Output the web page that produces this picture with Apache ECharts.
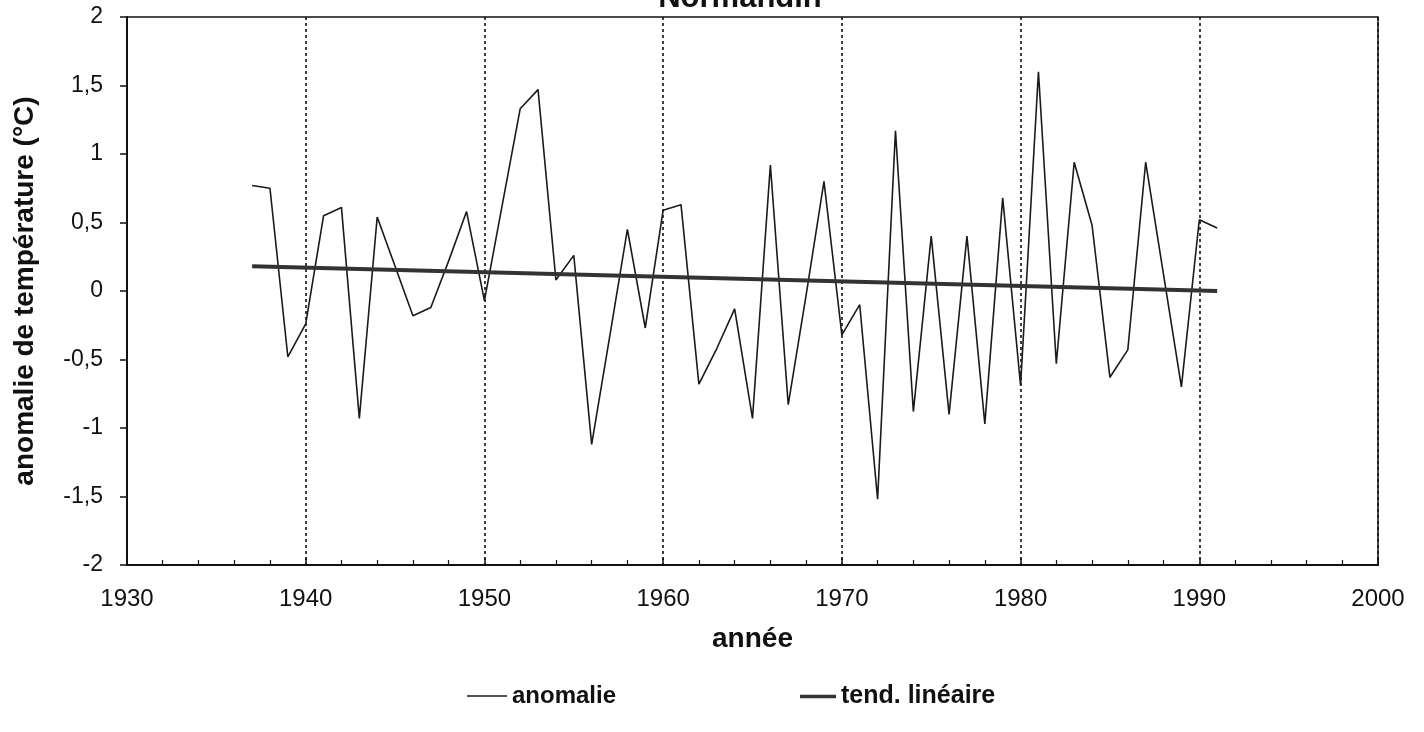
<!DOCTYPE html>
<html>
<head>
<meta charset="utf-8">
<script src="https://cdn.jsdelivr.net/npm/echarts@6/dist/echarts.min.js"></script>
<style>
html,body{margin:0;padding:0;background:#fff;}
#chart{width:1424px;height:732px;}
</style>
</head>
<body>
<div id="chart"></div>
<script>
const titleText = 'Normandin';
const years = [1937,1938,1939,1940,1941,1942,1943,1944,1945,1946,1947,1948,1949,
  1950,1951,1952,1953,1954,1955,1956,1957,1958,1959,
  1960,1961,1962,1963,1964,1965,1966,1967,1968,1969,
  1970,1971,1972,1973,1974,1975,1976,1977,1978,1979,
  1980,1981,1982,1983,1984,1985,1986,1987,1988,1989,
  1990,1991];
const anomalie = [0.77,0.75,-0.48,-0.24,0.55,0.61,-0.93,0.54,0.18,-0.18,-0.12,0.22,0.58,
  -0.07,0.63,1.33,1.47,0.08,0.26,-1.12,-0.34,0.45,-0.27,
  0.59,0.63,-0.68,-0.42,-0.13,-0.93,0.92,-0.83,-0.03,0.80,
  -0.32,-0.10,-1.52,1.17,-0.88,0.40,-0.90,0.40,-0.97,0.68,
  -0.69,1.60,-0.53,0.94,0.48,-0.63,-0.43,0.94,0.12,-0.70,
  0.52,0.46];
const trendYears = [1937, 1991];
const trendValues = [0.18, 0.00];
const seriesNames = ['anomalie', 'tend. linéaire'];
const xName = 'année';
const yName = 'anomalie de température (°C)';

const chart = echarts.init(document.getElementById('chart'), null, {renderer: 'canvas'});
const font = '"Liberation Sans", Arial, sans-serif';
const legendText = {fontFamily: font, fontWeight: 'bold', fontSize: 24, color: '#111'};
chart.setOption({
  backgroundColor: '#ffffff',
  animation: false,
  textStyle: {fontFamily: font, color: '#111'},
  title: {
    text: titleText,
    left: 735,
    textAlign: 'center',
    top: -22,
    textStyle: {fontFamily: font, fontWeight: 'bold', fontSize: 31, color: '#111'}
  },
  grid: {
    left: 127, right: 46, top: 17, bottom: 167,
    show: true, borderColor: '#111', borderWidth: 1.5, backgroundColor: 'transparent'
  },
  legend: [
    {
      left: 462, top: 679, icon: 'rect',
      itemWidth: 40, itemHeight: 1.5,
      textStyle: legendText,
      data: [seriesNames[0]]
    },
    {
      left: 795, top: 679, icon: 'rect',
      itemWidth: 36, itemHeight: 3.5,
      textStyle: Object.assign({}, legendText, {fontSize: 25}),
      data: [seriesNames[1]]
    }
  ],
  xAxis: {
    type: 'value', min: 1930, max: 2000, interval: 10,
    name: xName, nameLocation: 'middle', nameGap: 60,
    nameTextStyle: {fontFamily: font, fontWeight: 'bold', fontSize: 28, color: '#111'},
    axisLine: {show: true, onZero: false, lineStyle: {color: '#111', width: 2}},
    axisTick: {show: true, inside: true, length: 7, lineStyle: {color: '#111', width: 1.5}},
    minorTick: {show: true, splitNumber: 5, length: 5, lineStyle: {color: '#111', width: 1.2}},
    axisLabel: {fontFamily: font, fontSize: 24, color: '#111', margin: 22,
      formatter: v => String(v)},
    splitLine: {show: true, lineStyle: {color: '#111', width: 1.6, type: [3, 3]}}
  },
  yAxis: {
    type: 'value', min: -2, max: 2, interval: 0.5,
    name: yName, nameLocation: 'middle', nameGap: 88, nameRotate: 90,
    nameTextStyle: {fontFamily: font, fontWeight: 'bold', fontSize: 28, color: '#111'},
    axisLine: {show: true, onZero: false, lineStyle: {color: '#111', width: 2}},
    axisTick: {show: true, inside: false, length: 7, lineStyle: {color: '#111', width: 1.5}},
    axisLabel: {fontFamily: font, fontSize: 23, color: '#111', margin: 24,
      formatter: v => String(v).replace('.', ',')},
    splitLine: {show: false}
  },
  series: [
    {
      name: seriesNames[0], type: 'line', symbol: 'none', z: 3,
      data: years.map((y, i) => [y, anomalie[i]]),
      lineStyle: {color: '#1a1a1a', width: 1.6},
      itemStyle: {color: '#1a1a1a'}
    },
    {
      name: seriesNames[1], type: 'line', symbol: 'none', z: 4,
      data: trendYears.map((y, i) => [y, trendValues[i]]),
      lineStyle: {color: '#333', width: 4},
      itemStyle: {color: '#333'}
    }
  ]
});
</script>
</body>
</html>
